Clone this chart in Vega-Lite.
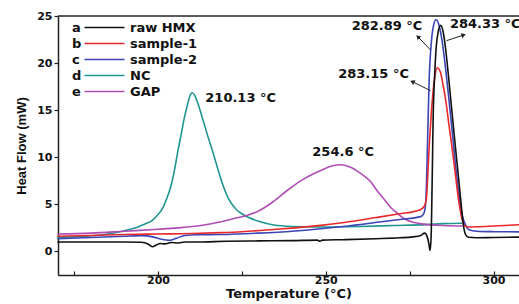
{
  "$schema": "https://vega.github.io/schema/vega-lite/v6.json",
  "width": 461,
  "height": 259,
  "autosize": {"type": "none"},
  "padding": {"left": 58, "top": 16, "right": 0, "bottom": 29},
  "background": "white",
  "config": {"view": {"stroke": null}, "font": "DejaVu Sans"},
  "datasets": {
    "curves": [
      {"s":"NC","t":170,"v":1.5},{"s":"NC","t":178,"v":1.6},{"s":"NC","t":185,"v":1.85},{"s":"NC","t":190,"v":2.2},{"s":"NC","t":194,"v":2.6},{"s":"NC","t":196,"v":2.9},{"s":"NC","t":197.9,"v":3.2},{"s":"NC","t":199.7,"v":3.8},{"s":"NC","t":201.4,"v":4.6},{"s":"NC","t":202.7,"v":5.7},{"s":"NC","t":203.9,"v":7.0},{"s":"NC","t":205,"v":8.8},{"s":"NC","t":205.9,"v":10.6},{"s":"NC","t":206.9,"v":12.4},{"s":"NC","t":207.8,"v":14.1},{"s":"NC","t":208.8,"v":15.6},{"s":"NC","t":209.5,"v":16.5},{"s":"NC","t":210.2,"v":16.85},{"s":"NC","t":210.9,"v":16.6},{"s":"NC","t":212,"v":15.6},{"s":"NC","t":213.3,"v":14.1},{"s":"NC","t":214.8,"v":12.3},{"s":"NC","t":216.3,"v":10.6},{"s":"NC","t":217.8,"v":8.8},{"s":"NC","t":219.3,"v":7.1},{"s":"NC","t":221,"v":5.6},{"s":"NC","t":223.2,"v":4.5},{"s":"NC","t":225,"v":4.0},{"s":"NC","t":226.7,"v":3.65},{"s":"NC","t":230,"v":3.2},{"s":"NC","t":234.5,"v":2.8},{"s":"NC","t":240,"v":2.65},{"s":"NC","t":248,"v":2.6},{"s":"NC","t":260,"v":2.65},{"s":"NC","t":270,"v":2.75},{"s":"NC","t":280,"v":2.85},{"s":"NC","t":285,"v":2.95},{"s":"NC","t":290.7,"v":3.0},
      {"s":"GAP","t":170,"v":1.85},{"s":"GAP","t":180,"v":1.95},{"s":"GAP","t":190,"v":2.15},{"s":"GAP","t":200,"v":2.35},{"s":"GAP","t":206,"v":2.5},{"s":"GAP","t":212.8,"v":2.75},{"s":"GAP","t":218.75,"v":3.15},{"s":"GAP","t":222.7,"v":3.5},{"s":"GAP","t":226.7,"v":3.85},{"s":"GAP","t":230,"v":4.3},{"s":"GAP","t":234,"v":5.2},{"s":"GAP","t":238.6,"v":6.5},{"s":"GAP","t":243,"v":7.6},{"s":"GAP","t":248.5,"v":8.6},{"s":"GAP","t":252,"v":9.1},{"s":"GAP","t":254.6,"v":9.2},{"s":"GAP","t":257,"v":9.0},{"s":"GAP","t":260.4,"v":8.3},{"s":"GAP","t":263.4,"v":7.4},{"s":"GAP","t":265.4,"v":6.4},{"s":"GAP","t":267.5,"v":5.5},{"s":"GAP","t":269.3,"v":4.7},{"s":"GAP","t":271.5,"v":4.0},{"s":"GAP","t":273.3,"v":3.5},{"s":"GAP","t":276,"v":3.1},{"s":"GAP","t":279.3,"v":2.9},{"s":"GAP","t":285,"v":2.75},{"s":"GAP","t":290.9,"v":2.7},
      {"s":"sample-2","t":170,"v":1.35},{"s":"sample-2","t":180,"v":1.48},{"s":"sample-2","t":190,"v":1.62},{"s":"sample-2","t":195,"v":1.68},{"s":"sample-2","t":198.5,"v":1.55},{"s":"sample-2","t":201,"v":1.3},{"s":"sample-2","t":203.5,"v":1.18},{"s":"sample-2","t":205.5,"v":1.4},{"s":"sample-2","t":208,"v":1.7},{"s":"sample-2","t":212,"v":1.78},{"s":"sample-2","t":218.75,"v":1.8},{"s":"sample-2","t":230,"v":1.95},{"s":"sample-2","t":240,"v":2.15},{"s":"sample-2","t":248.5,"v":2.41},{"s":"sample-2","t":255,"v":2.65},{"s":"sample-2","t":265.4,"v":3.1},{"s":"sample-2","t":272,"v":3.4},{"s":"sample-2","t":278.3,"v":3.7},{"s":"sample-2","t":279.3,"v":4.1},{"s":"sample-2","t":279.8,"v":5.2},{"s":"sample-2","t":280.3,"v":10.9},{"s":"sample-2","t":280.8,"v":18.0},{"s":"sample-2","t":281.5,"v":22.3},{"s":"sample-2","t":282.2,"v":24.1},{"s":"sample-2","t":282.9,"v":24.6},{"s":"sample-2","t":283.7,"v":24.1},{"s":"sample-2","t":284.7,"v":22.3},{"s":"sample-2","t":285.7,"v":19.5},{"s":"sample-2","t":286.7,"v":16.2},{"s":"sample-2","t":287.7,"v":12.7},{"s":"sample-2","t":288.7,"v":9.1},{"s":"sample-2","t":289.7,"v":6.0},{"s":"sample-2","t":290.7,"v":3.8},{"s":"sample-2","t":291.7,"v":2.8},{"s":"sample-2","t":292.7,"v":2.3},{"s":"sample-2","t":295,"v":2.15},{"s":"sample-2","t":300,"v":2.1},{"s":"sample-2","t":307.7,"v":2.08},
      {"s":"sample-1","t":170,"v":1.62},{"s":"sample-1","t":180,"v":1.7},{"s":"sample-1","t":190,"v":1.8},{"s":"sample-1","t":200,"v":1.85},{"s":"sample-1","t":210,"v":1.9},{"s":"sample-1","t":218.75,"v":2.0},{"s":"sample-1","t":225,"v":2.1},{"s":"sample-1","t":235,"v":2.35},{"s":"sample-1","t":248.5,"v":2.77},{"s":"sample-1","t":255,"v":3.05},{"s":"sample-1","t":265,"v":3.6},{"s":"sample-1","t":272,"v":4.0},{"s":"sample-1","t":277,"v":4.3},{"s":"sample-1","t":278.5,"v":4.5},{"s":"sample-1","t":279.5,"v":4.9},{"s":"sample-1","t":280,"v":5.6},{"s":"sample-1","t":280.4,"v":8.0},{"s":"sample-1","t":280.8,"v":10.9},{"s":"sample-1","t":281.3,"v":13.8},{"s":"sample-1","t":281.8,"v":16.2},{"s":"sample-1","t":282.5,"v":18.5},{"s":"sample-1","t":283.2,"v":19.5},{"s":"sample-1","t":284.2,"v":19.0},{"s":"sample-1","t":285,"v":17.6},{"s":"sample-1","t":285.7,"v":16.2},{"s":"sample-1","t":286.7,"v":13.5},{"s":"sample-1","t":287.7,"v":10.9},{"s":"sample-1","t":288.7,"v":8.0},{"s":"sample-1","t":289.7,"v":5.2},{"s":"sample-1","t":290.5,"v":3.6},{"s":"sample-1","t":291.2,"v":2.8},{"s":"sample-1","t":292.2,"v":2.6},{"s":"sample-1","t":295,"v":2.62},{"s":"sample-1","t":300,"v":2.7},{"s":"sample-1","t":307.7,"v":2.84},
      {"s":"raw HMX","t":170,"v":1.0},{"s":"raw HMX","t":180,"v":1.0},{"s":"raw HMX","t":190,"v":1.0},{"s":"raw HMX","t":195,"v":0.97},{"s":"raw HMX","t":197,"v":0.8},{"s":"raw HMX","t":198.3,"v":0.5},{"s":"raw HMX","t":199.5,"v":0.68},{"s":"raw HMX","t":200.7,"v":0.85},{"s":"raw HMX","t":202,"v":0.8},{"s":"raw HMX","t":204,"v":0.95},{"s":"raw HMX","t":206,"v":0.9},{"s":"raw HMX","t":208,"v":1.0},{"s":"raw HMX","t":212,"v":1.0},{"s":"raw HMX","t":220,"v":1.08},{"s":"raw HMX","t":230,"v":1.12},{"s":"raw HMX","t":240,"v":1.15},{"s":"raw HMX","t":247.5,"v":1.2},{"s":"raw HMX","t":248.3,"v":1.08},{"s":"raw HMX","t":249,"v":1.2},{"s":"raw HMX","t":255,"v":1.25},{"s":"raw HMX","t":265,"v":1.35},{"s":"raw HMX","t":272,"v":1.45},{"s":"raw HMX","t":276,"v":1.55},{"s":"raw HMX","t":278.3,"v":1.7},{"s":"raw HMX","t":279.5,"v":1.95},{"s":"raw HMX","t":280.2,"v":1.6},{"s":"raw HMX","t":280.7,"v":0.9},{"s":"raw HMX","t":281.1,"v":0.1},{"s":"raw HMX","t":281.4,"v":1.5},{"s":"raw HMX","t":281.7,"v":7.0},{"s":"raw HMX","t":282.0,"v":14.0},{"s":"raw HMX","t":282.5,"v":19.0},{"s":"raw HMX","t":282.9,"v":21.6},{"s":"raw HMX","t":283.5,"v":23.3},{"s":"raw HMX","t":284.3,"v":24.0},{"s":"raw HMX","t":285.0,"v":23.3},{"s":"raw HMX","t":285.7,"v":21.6},{"s":"raw HMX","t":286.7,"v":18.2},{"s":"raw HMX","t":287.7,"v":14.5},{"s":"raw HMX","t":288.7,"v":10.9},{"s":"raw HMX","t":289.7,"v":7.4},{"s":"raw HMX","t":290.5,"v":4.5},{"s":"raw HMX","t":291.2,"v":2.4},{"s":"raw HMX","t":291.8,"v":1.7},{"s":"raw HMX","t":292.5,"v":1.5},{"s":"raw HMX","t":295,"v":1.45},{"s":"raw HMX","t":300,"v":1.48},{"s":"raw HMX","t":307.7,"v":1.52}
    ],
    "keys": [
      {"s":"raw HMX","k":"a"},{"s":"sample-1","k":"b"},{"s":"sample-2","k":"c"},{"s":"NC","k":"d"},{"s":"GAP","k":"e"}
    ],
    "notes": [
      {"label":"210.13 °C","t":214.1,"v":16.3,"side":"L"},
      {"label":"254.6 °C","t":246.0,"v":10.6,"side":"L"},
      {"label":"284.33 °C","t":287.0,"v":24.2,"side":"L"},
      {"label":"282.89 °C","t":278.8,"v":23.9,"side":"R"},
      {"label":"283.15 °C","t":274.8,"v":18.8,"side":"R"}
    ],
    "arrows": [
      {"t":281.25,"v":21.39,"t2":277.47,"v2":22.8,"dir":316},
      {"t":286.0,"v":22.38,"t2":291.1,"v2":22.98,"dir":72},
      {"t":281.25,"v":17.07,"t2":275.8,"v2":18.03,"dir":296}
    ],
    "frame": [{"v": 25}]
  },
  "layer": [
    {
      "data": {"name": "curves"},
      "transform": [{"lookup": "s", "from": {"data": {"name": "keys"}, "key": "s", "fields": ["k"]}}],
      "mark": {"type": "line", "strokeWidth": 1.6, "interpolate": "monotone"},
      "encoding": {
        "x": {
          "field": "t", "type": "quantitative",
          "scale": {"domain": [170.2, 307.6], "nice": false, "zero": false},
          "axis": {
            "values": [175, 200, 225, 250, 275, 300],
            "labelExpr": "datum.value % 50 === 0 ? datum.label : ''",
            "labelOverlap": false,
            "title": "Temperature (°C)", "grid": false,
            "domainColor": "#222", "domainWidth": 1.5,
            "tickColor": "#222", "tickWidth": 1.2, "tickSize": -4,
            "labelPadding": 3, "labelFont": "DejaVu Sans", "labelFontWeight": "bold", "labelFontSize": 11, "labelColor": "#111",
            "titleFont": "DejaVu Sans", "titleFontWeight": "bold", "titleFontSize": 13, "titleColor": "#111", "titlePadding": 2
          }
        },
        "y": {
          "field": "v", "type": "quantitative",
          "scale": {"domain": [-2.5, 25], "nice": false, "zero": false},
          "axis": {
            "values": [0, 5, 10, 15, 20, 25],
            "format": "d",
            "labelOverlap": false,
            "title": "Heat Flow (mW)", "grid": false,
            "domainColor": "#222", "domainWidth": 1.5,
            "tickColor": "#222", "tickWidth": 1.2, "tickSize": 4,
            "labelPadding": 2, "labelFont": "DejaVu Sans", "labelFontWeight": "bold", "labelFontSize": 11, "labelColor": "#111",
            "titleFont": "Liberation Sans", "titleFontWeight": "bold", "titleFontSize": 13, "titleColor": "#111", "titlePadding": 8
          }
        },
        "color": {
          "field": "s", "type": "nominal",
          "scale": {"domain": ["raw HMX", "sample-1", "sample-2", "NC", "GAP"], "range": ["#111111", "#e8282a", "#3b45b8", "#1e968f", "#b04db5"]},
          "legend": {
            "orient": "none", "legendX": 40, "legendY": 5, "title": null, "padding": 0,
            "symbolType": "M-4,0H4", "symbolSize": 100, "symbolStrokeWidth": 1.6,
            "labelOffset": 19, "rowPadding": 2,
            "labelFont": "DejaVu Sans", "labelFontWeight": "bold", "labelFontSize": 13, "labelColor": "#111", "labelLimit": 200
          }
        },
        "opacity": {
          "field": "k", "type": "ordinal",
          "scale": {"domain": ["a", "b", "c", "d", "e"], "range": [1, 1, 1, 1, 1]},
          "legend": {
            "orient": "none", "legendX": 1, "legendY": 5, "title": null, "padding": 0,
            "symbolSize": 0, "symbolOpacity": 0, "labelOffset": 0, "rowPadding": 2,
            "labelFont": "DejaVu Sans", "labelFontWeight": "bold", "labelFontSize": 13, "labelColor": "#111"
          }
        }
      }
    },
    {
      "data": {"name": "frame"},
      "mark": {"type": "rule", "color": "#222", "strokeWidth": 1.5},
      "encoding": {"y": {"field": "v", "type": "quantitative"}}
    },
    {
      "data": {"name": "notes"},
      "transform": [{"filter": "datum.side === 'L'"}],
      "mark": {"type": "text", "align": "left", "baseline": "middle", "font": "DejaVu Sans", "fontWeight": "bold", "fontSize": 13, "color": "#111"},
      "encoding": {
        "x": {"field": "t", "type": "quantitative"},
        "y": {"field": "v", "type": "quantitative"},
        "text": {"field": "label"}
      }
    },
    {
      "data": {"name": "notes"},
      "transform": [{"filter": "datum.side === 'R'"}],
      "mark": {"type": "text", "align": "right", "baseline": "middle", "font": "DejaVu Sans", "fontWeight": "bold", "fontSize": 13, "color": "#111"},
      "encoding": {
        "x": {"field": "t", "type": "quantitative"},
        "y": {"field": "v", "type": "quantitative"},
        "text": {"field": "label"}
      }
    },
    {
      "data": {"name": "arrows"},
      "mark": {"type": "rule", "color": "#222", "strokeWidth": 1},
      "encoding": {
        "x": {"field": "t", "type": "quantitative"},
        "y": {"field": "v", "type": "quantitative"},
        "x2": {"field": "t2"},
        "y2": {"field": "v2"}
      }
    },
    {
      "data": {"name": "arrows"},
      "mark": {"type": "point", "shape": "triangle-up", "filled": true, "color": "#222", "size": 26, "opacity": 1},
      "encoding": {
        "x": {"field": "t2", "type": "quantitative"},
        "y": {"field": "v2", "type": "quantitative"},
        "angle": {"field": "dir", "type": "quantitative", "scale": null}
      }
    }
  ]
}
